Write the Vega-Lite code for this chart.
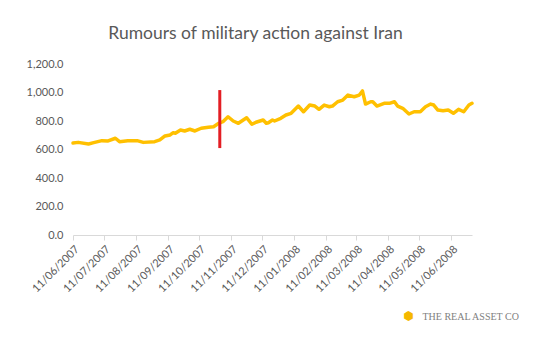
{
  "$schema": "https://vega.github.io/schema/vega-lite/v6.json",
  "width": 399,
  "height": 171,
  "autosize": "none",
  "padding": {"left": 73, "top": 64, "right": 71, "bottom": 126},
  "background": "white",
  "title": {
    "text": "Rumours of military action against Iran",
    "font": "Lato",
    "fontSize": 17.5,
    "fontWeight": "normal",
    "color": "#595959",
    "anchor": "middle",
    "frame": "group",
    "dx": -17,
    "offset": 16
  },
  "config": {
    "view": {"stroke": null},
    "axis": {"grid": false, "labelFont": "Lato", "labelFontSize": 11, "labelColor": "#595959", "labelOverlap": false, "labelFlush": false}
  },
  "datasets": {
    "gold": [
      {"date": "2007-06-11", "price": 645},
      {"date": "2007-06-16", "price": 650},
      {"date": "2007-06-26", "price": 639},
      {"date": "2007-07-01", "price": 648},
      {"date": "2007-07-09", "price": 662},
      {"date": "2007-07-15", "price": 660},
      {"date": "2007-07-22", "price": 679},
      {"date": "2007-07-26", "price": 655},
      {"date": "2007-08-03", "price": 662},
      {"date": "2007-08-12", "price": 662},
      {"date": "2007-08-18", "price": 650},
      {"date": "2007-08-29", "price": 655},
      {"date": "2007-09-03", "price": 667},
      {"date": "2007-09-08", "price": 695},
      {"date": "2007-09-13", "price": 702},
      {"date": "2007-09-16", "price": 718},
      {"date": "2007-09-18", "price": 714},
      {"date": "2007-09-23", "price": 737},
      {"date": "2007-09-27", "price": 730},
      {"date": "2007-10-02", "price": 742},
      {"date": "2007-10-07", "price": 730},
      {"date": "2007-10-13", "price": 749},
      {"date": "2007-10-20", "price": 756},
      {"date": "2007-10-25", "price": 760},
      {"date": "2007-10-30", "price": 784},
      {"date": "2007-11-03", "price": 795},
      {"date": "2007-11-08", "price": 830},
      {"date": "2007-11-13", "price": 800},
      {"date": "2007-11-18", "price": 784},
      {"date": "2007-11-26", "price": 823},
      {"date": "2007-12-01", "price": 777},
      {"date": "2007-12-05", "price": 791},
      {"date": "2007-12-12", "price": 807},
      {"date": "2007-12-15", "price": 784},
      {"date": "2007-12-17", "price": 788},
      {"date": "2007-12-21", "price": 807},
      {"date": "2007-12-23", "price": 800},
      {"date": "2007-12-29", "price": 819},
      {"date": "2008-01-03", "price": 842},
      {"date": "2008-01-08", "price": 854},
      {"date": "2008-01-15", "price": 905},
      {"date": "2008-01-20", "price": 865},
      {"date": "2008-01-26", "price": 912},
      {"date": "2008-01-31", "price": 905},
      {"date": "2008-02-04", "price": 882},
      {"date": "2008-02-09", "price": 912},
      {"date": "2008-02-14", "price": 900},
      {"date": "2008-02-17", "price": 905},
      {"date": "2008-02-22", "price": 935},
      {"date": "2008-02-27", "price": 947},
      {"date": "2008-03-03", "price": 982},
      {"date": "2008-03-09", "price": 970},
      {"date": "2008-03-14", "price": 982},
      {"date": "2008-03-17", "price": 1011},
      {"date": "2008-03-20", "price": 919},
      {"date": "2008-03-25", "price": 935},
      {"date": "2008-03-27", "price": 935},
      {"date": "2008-03-31", "price": 905},
      {"date": "2008-04-07", "price": 924},
      {"date": "2008-04-12", "price": 924},
      {"date": "2008-04-17", "price": 935},
      {"date": "2008-04-20", "price": 905},
      {"date": "2008-04-25", "price": 889},
      {"date": "2008-05-01", "price": 849},
      {"date": "2008-05-06", "price": 865},
      {"date": "2008-05-12", "price": 865},
      {"date": "2008-05-17", "price": 900},
      {"date": "2008-05-22", "price": 919},
      {"date": "2008-05-25", "price": 912},
      {"date": "2008-05-29", "price": 877},
      {"date": "2008-06-03", "price": 872},
      {"date": "2008-06-08", "price": 877},
      {"date": "2008-06-13", "price": 854},
      {"date": "2008-06-18", "price": 882},
      {"date": "2008-06-23", "price": 865},
      {"date": "2008-06-28", "price": 912},
      {"date": "2008-07-01", "price": 924}
    ],
    "marker": [
      {"date": "2007-10-31", "low": 610, "high": 1017}
    ]
  },
  "layer": [
    {
      "data": {"name": "gold"},
      "mark": {"type": "line", "color": "#FFC000", "strokeWidth": 3.5, "strokeJoin": "round", "strokeCap": "round"},
      "encoding": {
        "x": {
          "field": "date",
          "type": "temporal",
          "scale": {
            "type": "utc",
            "domain": [
              {"year": 2007, "month": 6, "date": 11, "utc": true},
              {"year": 2008, "month": 7, "date": 1, "utc": true}
            ]
          },
          "axis": {
            "title": "THE REAL ASSET CO",
            "titleFont": "Liberation Serif",
            "titleFontSize": 10,
            "titleFontWeight": "normal",
            "titleColor": "#808080",
            "titleAlign": "left",
            "titleBaseline": "alphabetic",
            "titleAnchor": "start",
            "titleX": 349,
            "titleY": 84,
            "tickCount": 30,
            "values": [
              {"year": 2007, "month": 6, "date": 11, "utc": true},
              {"year": 2007, "month": 7, "date": 11, "utc": true},
              {"year": 2007, "month": 8, "date": 11, "utc": true},
              {"year": 2007, "month": 9, "date": 11, "utc": true},
              {"year": 2007, "month": 10, "date": 11, "utc": true},
              {"year": 2007, "month": 11, "date": 11, "utc": true},
              {"year": 2007, "month": 12, "date": 11, "utc": true},
              {"year": 2008, "month": 1, "date": 11, "utc": true},
              {"year": 2008, "month": 2, "date": 11, "utc": true},
              {"year": 2008, "month": 3, "date": 11, "utc": true},
              {"year": 2008, "month": 4, "date": 11, "utc": true},
              {"year": 2008, "month": 5, "date": 11, "utc": true},
              {"year": 2008, "month": 6, "date": 11, "utc": true}
            ],
            "format": "%d/%m/%Y",
            "labelAngle": -45,
            "labelPadding": 3,
            "domainColor": "#d9d9d9",
            "tickColor": "#d9d9d9",
            "tickSize": 5
          }
        },
        "y": {
          "field": "price",
          "type": "quantitative",
          "scale": {"domain": [0, 1200], "nice": false},
          "axis": {
            "title": "⬢",
            "titleFont": "DejaVu Sans",
            "titleFontSize": 12,
            "titleColor": "#F5B800",
            "titleAngle": 0,
            "titleAlign": "center",
            "titleBaseline": "middle",
            "titleX": 335,
            "titleY": 251,
            "tickCount": 20,
            "values": [0, 200, 400, 600, 800, 1000, 1200],
            "format": ",.1f",
            "domain": false,
            "ticks": false,
            "labelPadding": 10
          }
        }
      }
    },
    {
      "data": {"name": "marker"},
      "mark": {"type": "rule", "color": "#E31E24", "strokeWidth": 3},
      "encoding": {
        "x": {"field": "date", "type": "temporal"},
        "y": {"field": "low", "type": "quantitative"},
        "y2": {"field": "high"}
      }
    }
  ]
}
